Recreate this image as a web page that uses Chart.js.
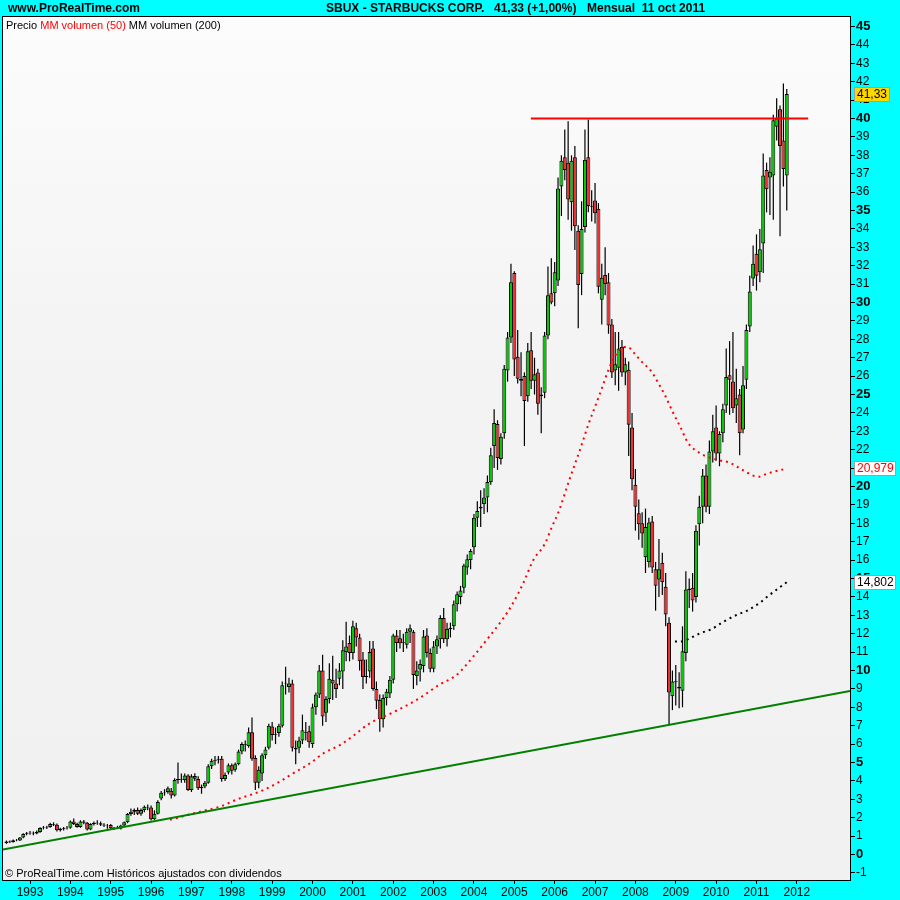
<!DOCTYPE html>
<html>
<head>
<meta charset="utf-8">
<title>SBUX mensual</title>
<script src="https://cdn.jsdelivr.net/npm/chart.js@4.4.0/dist/chart.umd.min.js"></script>
<style>
  html, body { margin: 0; padding: 0; background: #00FFFF; }
  #wrap { width: 900px; height: 900px; }
  canvas { display: block; }
</style>
</head>
<body>
<div id="wrap"><canvas id="sbuxChart" width="900" height="900"></canvas></div>
<script>
// velas mensuales, jun 1992 .. oct 2011 (una linea por año)
const firstYear = 1992, firstMonth = 6;

const opens = [
  0.62,0.70,0.67,0.78,0.76,0.92,1.12,
  1.15,1.18,1.14,1.22,1.44,1.47,1.50,1.66,1.62,1.32,1.38,1.42,
  1.46,1.80,1.66,1.50,1.80,1.72,1.36,1.66,1.72,1.70,1.62,1.58,
  1.60,1.42,1.46,1.41,1.58,1.75,2.20,2.32,2.42,2.22,2.42,2.60,
  2.56,1.92,2.22,3.05,3.35,3.40,3.47,3.20,4.05,4.10,4.05,4.30,
  3.50,4.27,4.10,3.60,3.70,3.90,4.80,5.10,5.15,5.20,4.10,4.45,
  4.85,4.60,4.90,5.60,6.00,5.90,6.65,5.25,3.90,4.40,5.40,5.80,
  6.95,6.50,6.60,7.00,9.30,9.10,9.30,5.80,5.80,6.20,6.65,6.70,
  6.00,8.00,8.70,10.00,7.70,8.45,9.50,9.30,9.55,9.95,11.00,11.50,
  10.95,12.30,11.80,10.60,9.65,9.95,11.20,9.00,8.40,7.35,8.50,8.75,
  9.50,11.90,11.75,11.50,11.40,12.10,12.10,9.70,10.05,10.25,11.90,10.95,
  10.10,11.30,11.70,12.85,11.70,12.25,12.40,13.60,14.00,14.50,15.60,16.00,
  16.70,18.30,18.80,19.05,19.40,20.25,22.20,23.40,21.50,22.90,26.30,28.10,
  31.60,27.05,25.85,26.00,24.90,27.40,25.75,26.20,24.90,25.10,28.20,30.50,
  30.50,31.20,36.30,37.90,37.60,35.45,37.90,33.90,31.55,34.10,37.90,35.25,
  35.55,35.10,30.15,31.50,31.10,28.80,26.30,26.45,27.60,26.20,26.35,23.20,
  20.10,18.55,18.00,16.15,15.90,18.10,15.50,14.95,15.85,14.55,12.60,8.60,
  9.36,9.12,8.90,10.95,14.38,14.50,14.00,17.95,18.90,20.60,18.90,21.90,
  23.20,21.80,22.90,24.40,26.05,25.70,24.40,25.00,23.10,25.80,28.70,31.30,
  32.65,31.65,33.20,37.20,36.80,36.90,39.55,40.50,38.80,36.90
];

const highs = [
  0.76,0.76,0.82,0.84,0.95,1.16,1.22,
  1.28,1.25,1.30,1.48,1.55,1.56,1.72,1.75,1.68,1.45,1.50,1.55,
  1.85,1.95,1.72,1.86,1.88,1.76,1.70,1.80,1.86,1.80,1.70,1.66,
  1.66,1.50,1.56,1.62,1.80,2.25,2.50,2.50,2.55,2.50,2.66,2.72,
  2.66,2.40,2.95,3.45,3.55,3.70,3.62,4.15,5.00,4.40,4.40,4.36,
  4.36,4.42,4.25,3.80,4.00,4.90,5.20,5.35,5.35,5.35,4.45,4.95,
  4.95,5.00,5.70,6.10,6.20,6.90,7.45,5.40,4.80,5.50,5.85,7.10,
  7.20,6.90,7.10,9.40,10.20,9.60,9.50,6.20,6.40,7.60,7.20,7.00,
  8.20,8.80,10.30,10.85,8.60,10.40,10.80,10.10,10.40,11.65,12.65,11.90,
  12.70,12.60,12.00,11.00,10.60,11.60,11.60,9.40,8.70,8.70,9.00,9.70,
  12.00,12.20,12.20,12.00,12.30,12.50,12.20,10.50,10.60,12.20,12.30,11.20,
  11.60,11.90,13.00,13.40,12.60,12.60,13.80,14.30,14.60,15.80,16.30,16.60,
  18.50,19.20,19.80,19.90,20.60,22.10,24.20,23.60,22.90,26.60,28.40,32.10,
  31.70,28.50,27.30,26.20,27.80,28.40,27.00,26.40,25.40,28.40,31.95,32.40,
  32.20,36.80,38.00,39.40,39.85,38.00,38.50,34.20,35.50,39.40,39.95,36.10,
  36.50,35.40,32.10,33.00,31.60,29.10,28.40,28.40,27.96,27.00,26.80,24.00,
  20.95,19.30,18.60,18.80,18.30,18.40,15.90,17.15,16.40,15.30,12.90,10.00,
  10.30,9.90,12.40,15.40,15.00,15.30,17.90,19.50,20.95,21.20,22.50,23.90,
  24.40,23.00,24.50,27.50,27.90,28.40,26.40,25.30,26.55,28.80,31.45,33.10,
  33.70,34.00,38.10,37.60,37.90,40.20,41.10,40.70,41.90,41.60
];

const lows = [
  0.58,0.63,0.65,0.72,0.74,0.88,1.05,
  1.08,1.05,1.10,1.18,1.36,1.38,1.45,1.55,1.25,1.25,1.30,1.36,
  1.40,1.60,1.45,1.45,1.65,1.30,1.32,1.58,1.62,1.55,1.50,1.40,
  1.35,1.35,1.38,1.36,1.50,1.70,2.10,2.15,2.15,2.10,2.30,2.40,
  1.85,1.88,2.18,2.95,3.20,3.30,3.05,3.15,3.85,3.90,3.90,3.45,
  3.40,4.00,3.50,3.30,3.60,3.85,4.65,4.85,4.95,3.96,4.00,4.35,
  4.35,4.50,4.85,5.45,5.60,5.80,5.10,3.50,3.60,4.00,5.20,5.70,
  6.20,6.00,6.40,6.90,8.70,8.80,5.60,4.90,5.50,6.00,6.20,5.80,
  5.80,7.60,8.50,7.00,7.20,8.20,8.40,8.50,9.20,9.00,10.50,10.50,
  10.60,11.30,10.00,9.00,9.30,9.60,8.90,7.90,6.67,6.90,8.10,8.50,
  9.30,11.00,11.20,11.00,11.20,11.50,9.00,9.20,9.40,9.90,10.70,9.90,
  9.90,10.90,11.20,11.50,11.30,11.80,12.20,13.20,13.60,14.20,15.20,15.50,
  16.30,17.80,17.80,18.50,18.60,20.10,21.00,20.90,21.20,22.60,25.70,27.80,
  26.00,25.60,24.90,22.20,24.60,25.30,25.00,23.90,22.90,24.80,28.00,29.90,
  29.80,30.90,34.70,36.65,34.50,33.90,32.85,28.60,30.40,33.80,34.90,34.40,
  34.30,30.50,28.80,30.40,28.30,25.90,25.50,25.20,25.97,25.50,21.66,19.80,
  17.60,17.10,16.67,15.30,15.60,15.30,13.25,14.00,14.10,12.40,7.04,7.85,
  8.10,7.95,8.00,10.50,13.40,13.20,13.70,16.80,18.00,18.60,18.50,21.30,
  21.40,21.10,22.40,24.00,23.90,24.00,23.45,21.70,22.90,25.30,28.40,30.90,
  30.65,31.10,31.60,34.90,34.75,34.50,38.80,33.60,36.30,35.00
];

const closes = [
  0.70,0.67,0.78,0.76,0.92,1.12,1.15,
  1.18,1.14,1.22,1.44,1.47,1.50,1.66,1.62,1.32,1.38,1.42,1.46,
  1.80,1.66,1.50,1.80,1.72,1.36,1.66,1.72,1.70,1.62,1.58,1.56,
  1.42,1.46,1.41,1.58,1.75,2.20,2.32,2.42,2.22,2.42,2.60,2.56,
  1.92,2.22,2.85,3.35,3.38,3.60,3.20,4.05,4.10,4.06,4.30,3.50,
  4.25,4.12,3.60,3.68,3.90,4.80,5.10,5.14,5.20,4.10,4.32,4.85,
  4.55,4.90,5.60,6.00,5.96,6.65,5.20,3.90,4.60,5.40,5.70,7.00,
  6.50,6.54,7.00,9.20,9.34,9.30,5.80,5.70,6.20,6.75,6.60,6.10,
  8.00,8.70,10.00,7.50,8.45,9.55,9.30,9.00,10.00,11.10,11.30,10.95,
  12.40,11.80,10.50,9.65,9.70,11.00,9.00,8.35,7.35,8.50,8.85,9.50,
  11.90,11.50,11.48,11.54,12.10,12.30,9.75,10.00,10.35,11.85,10.95,10.10,
  11.30,11.70,12.85,11.70,12.25,12.32,13.60,14.15,14.35,15.70,16.05,16.50,
  18.30,18.67,18.90,19.40,20.25,21.70,23.45,21.55,22.70,26.40,28.10,31.10,
  26.90,25.85,25.75,24.65,27.35,25.75,26.10,24.50,25.00,28.20,30.40,30.00,
  31.65,36.20,37.70,37.20,35.60,37.70,34.15,30.95,34.00,37.75,35.25,35.20,
  34.85,30.85,31.35,31.00,28.75,26.20,26.65,27.50,26.20,26.65,23.35,20.40,
  18.90,17.95,17.45,17.80,18.05,15.60,14.60,15.50,14.80,13.05,8.80,9.40,
  9.42,9.02,11.05,14.40,14.44,13.80,17.60,18.90,20.60,18.90,21.90,23.00,
  21.80,22.85,24.20,25.95,25.80,24.25,24.80,22.90,25.50,28.50,30.60,32.10,
  31.45,32.90,36.90,36.15,37.10,39.90,40.00,38.50,37.25,41.33
];

// MM volumen (50)
const ma50Dates = [1996.47,1997.21,1997.70,1998.16,1998.45,1998.78,1999.19,1999.52,1999.94,2000.27,2000.68,2000.93,
  2001.42,2002.00,2002.58,2003.16,2003.57,2004.07,2004.40,2004.70,2004.94,2005.22,2005.47,2005.76,2005.93,2006.11,
  2006.37,2006.64,2006.83,2007.00,2007.17,2007.33,2007.54,2007.79,2007.99,2008.13,2008.40,2008.57,2008.73,2008.94,
  2009.11,2009.31,2009.58,2009.72,2010.05,2010.34,2010.63,2010.92,2011.07,2011.24,2011.75];
const ma50Values = [1.88,2.33,2.60,3.02,3.23,3.50,3.96,4.41,4.96,5.50,5.95,6.32,
  7.13,7.73,8.40,9.25,9.76,10.99,11.90,12.75,13.56,14.74,16.00,16.90,17.80,18.70,
  20.40,22.08,23.34,24.34,25.34,26.33,27.24,27.60,27.20,26.84,26.24,25.61,24.97,23.98,
  23.25,22.35,21.84,21.67,21.44,21.29,20.93,20.59,20.53,20.68,20.98];

// MM volumen (200)
const ma200Dates = [2008.98,2009.19,2009.35,2009.60,2009.89,2010.18,2010.51,2010.80,2011.09,2011.25,2011.75];
const ma200Values = [11.57,11.60,11.75,12.02,12.25,12.65,13.02,13.29,13.69,13.98,14.80];

// lineas dibujadas a mano
const trendDates = [1992.331, 2013.317];
const trendValues = [0.27, 8.89];
const resistDates = [2005.41, 2012.28];
const resistValues = [40, 40];

const yearTicks = [1993,1994,1995,1996,1997,1998,1999,2000,2001,2002,2003,2004,2005,2006,2007,2008,2009,2010,2011,2012];

const monthDates = opens.map((v, i) => {
  const m = firstMonth - 1 + i;
  return firstYear + Math.floor(m / 12) + (m % 12) / 12;
});

const wickData = monthDates.map((t, i) => ({ x: t, y: [lows[i], highs[i]] }));
const bodyData = monthDates.map((t, i) => ({ x: t, y: [opens[i], closes[i]] }));
const toPoints = (xs, ys) => xs.map((x, i) => ({ x: x, y: ys[i] }));

const FONT = 'Arial, "Liberation Sans", sans-serif';

const decor = {
  id: 'decor',
  beforeDraw(chart) {
    const { ctx, chartArea: a } = chart;
    ctx.save();
    ctx.fillStyle = '#00FFFF';
    ctx.fillRect(0, 0, chart.width, chart.height);
    let g = ctx.createLinearGradient(0, a.top, 0, a.bottom);
    g.addColorStop(0, '#FCFCFC');
    g.addColorStop(0.4, '#F3F3F3');
    g.addColorStop(1, '#F1F1F1');
    ctx.fillStyle = g;
    ctx.fillRect(a.left, a.top, a.right - a.left, a.bottom - a.top);
    ctx.restore();
  },
  afterDraw(chart) {
    const { ctx, chartArea: a } = chart;
    const yScale = chart.scales.y;
    ctx.save();
    ctx.strokeStyle = '#000';
    ctx.lineWidth = 1;
    ctx.strokeRect(a.left - 0.5, a.top - 0.5, a.right - a.left + 1, a.bottom - a.top + 1);

    // cabecera
    ctx.fillStyle = '#000';
    ctx.textBaseline = 'middle';
    ctx.font = 'bold 12px ' + FONT;
    ctx.fillText('www.ProRealTime.com', 8, 9);
    ctx.fillText('SBUX - STARBUCKS CORP.', 326, 9);
    ctx.fillText('41,33 (+1,00%)', 494, 9);
    ctx.fillText('Mensual  11 oct 2011', 587, 9);

    // leyenda
    ctx.font = '11px ' + FONT;
    let x = 6;
    const parts = [['Precio ', '#000'], ['MM volumen (50)', '#FF0000'], [' MM volumen (200)', '#000']];
    parts.forEach(p => {
      ctx.fillStyle = p[1];
      ctx.fillText(p[0], x, 26);
      x += ctx.measureText(p[0]).width;
    });
    ctx.fillStyle = '#000';
    ctx.fillText('\u00A9 ProRealTime.com Hist\u00F3ricos ajustados con dividendos', 5, 874);

    // etiquetas de precio
    const tag = (text, value, fill, color) => {
      const y = Math.round(yScale.getPixelForValue(value));
      ctx.font = '12px ' + FONT;
      const w = Math.ceil(ctx.measureText(text).width) + 5;
      ctx.fillStyle = fill;
      ctx.fillRect(854, y - 7, w, 15);
      ctx.strokeStyle = '#A0A0A0';
      ctx.strokeRect(854.5, y - 6.5, w - 1, 14);
      ctx.fillStyle = color;
      ctx.fillText(text, 857, y + 1);
    };
    tag('41,33', closes[closes.length - 1], '#FFD700', '#000');
    tag('20,979', ma50Values[ma50Values.length - 1], '#FFFFFF', '#FF0000');
    tag('14,802', ma200Values[ma200Values.length - 1], '#FFFFFF', '#000');
    ctx.restore();
  }
};

const ctx = document.getElementById('sbuxChart').getContext('2d');

const sbuxChart = new Chart(ctx, {
  type: 'bar',
  data: {
    datasets: [
      {
        type: 'line', label: 'Soporte', data: toPoints(trendDates, trendValues),
        borderColor: '#008000', borderWidth: 2, pointRadius: 0, order: 0
      },
      {
        type: 'line', label: 'Resistencia', data: toPoints(resistDates, resistValues),
        borderColor: '#FF0000', borderWidth: 2, pointRadius: 0, order: 0
      },
      {
        type: 'line', label: 'MM volumen (50)', data: toPoints(ma50Dates, ma50Values),
        borderColor: '#FF0000', borderWidth: 2, borderDash: [2, 4], pointRadius: 0,
        cubicInterpolationMode: 'monotone', order: 0
      },
      {
        type: 'line', label: 'MM volumen (200)', data: toPoints(ma200Dates, ma200Values),
        borderColor: '#000000', borderWidth: 2, borderDash: [2, 4], pointRadius: 0,
        cubicInterpolationMode: 'monotone', order: 0
      },
      {
        label: 'cuerpos', data: bodyData,
        backgroundColor: (c) => {
          const r = c.raw;
          if (!r) return '#00CC00';
          return r.y[1] >= r.y[0] ? '#00CC00' : '#F03030';
        },
        borderColor: '#000', borderWidth: 1, borderSkipped: false,
        barThickness: 4, grouped: false, inflateAmount: 0, order: 1
      },
      {
        label: 'mechas', data: wickData,
        backgroundColor: '#000', barThickness: 1.2, grouped: false, inflateAmount: 0, order: 2
      }
    ]
  },
  options: {
    responsive: false,
    animation: false,
    layout: { padding: { left: 3, top: 17, right: 0, bottom: 0 } },
    plugins: {
      legend: { display: false },
      tooltip: { enabled: false }
    },
    scales: {
      x: {
        type: 'linear',
        position: 'bottom',
        min: 1992.331,
        max: 2013.317,
        offset: false,
        grid: {
          drawOnChartArea: false, offset: false, tickLength: 4,
          tickColor: (c) => (c.tick && yearTicks.includes(c.tick.value)) ? '#000' : 'rgba(0,0,0,0)'
        },
        border: { display: true, color: '#000' },
        ticks: {
          stepSize: 1, includeBounds: false, autoSkip: false, maxRotation: 0, padding: 1,
          color: '#000', font: { family: FONT, size: 12 },
          callback: (v) => yearTicks.includes(v) ? String(v) : ''
        },
        afterFit: (s) => { s.height = 20; }
      },
      y: {
        type: 'linear',
        position: 'right',
        min: -1.386,
        max: 45.516,
        grid: { drawOnChartArea: false, tickLength: 5, tickColor: '#000' },
        border: { display: true, color: '#000' },
        ticks: {
          stepSize: 1, includeBounds: false, autoSkip: false, padding: 1, color: '#000',
          font: (c) => {
            const v = c.tick ? c.tick.value : 1;
            return v % 5 === 0
              ? { family: FONT, size: 13, weight: 'bold' }
              : { family: FONT, size: 12 };
          }
        },
        afterFit: (s) => { s.width = 50; }
      }
    }
  },
  plugins: [decor]
});
</script>
</body>
</html>
